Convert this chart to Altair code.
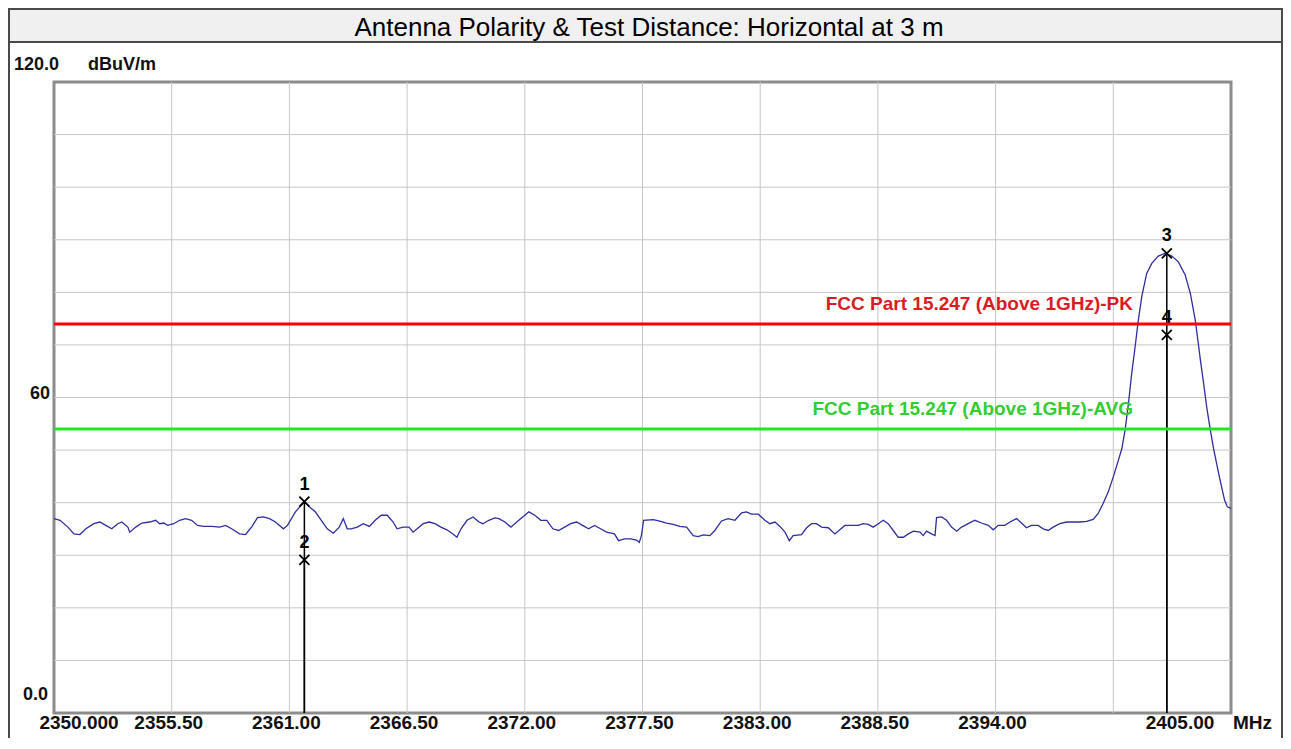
import altair as alt
import pandas as pd

# ---------------- data ----------------
freq = [
    2350.00, 2350.28, 2350.65, 2350.93, 2351.21, 2351.49, 2351.86, 2352.14, 2352.42, 2352.70,
    2352.98, 2353.17, 2353.45, 2353.54, 2353.82, 2354.10, 2354.47, 2354.75, 2354.94, 2355.13,
    2355.31, 2355.59, 2355.87, 2356.15, 2356.43, 2356.71, 2356.99, 2357.36, 2357.74, 2358.02,
    2358.30, 2358.67, 2358.95, 2359.23, 2359.51, 2359.79, 2360.07, 2360.35, 2360.72, 2360.91,
    2361.28, 2361.70, 2361.93, 2362.21, 2362.49, 2362.77, 2363.05, 2363.33, 2363.52, 2363.70,
    2363.89, 2364.17, 2364.45, 2364.74, 2365.01, 2365.29, 2365.57, 2365.85, 2366.03, 2366.31,
    2366.59, 2366.78, 2366.97, 2367.25, 2367.53, 2367.80, 2368.08, 2368.36, 2368.64, 2368.83,
    2369.02, 2369.30, 2369.58, 2369.86, 2370.04, 2370.32, 2370.60, 2370.79, 2371.07, 2371.35,
    2371.72, 2372.00, 2372.19, 2372.47, 2372.75, 2373.03, 2373.31, 2373.58, 2373.86, 2374.14,
    2374.42, 2374.70, 2374.98, 2375.26, 2375.54, 2375.82, 2376.19, 2376.38, 2376.66, 2376.94,
    2377.22, 2377.35, 2377.45, 2377.55, 2378.00, 2378.31, 2378.62, 2378.93, 2379.24, 2379.56,
    2379.87, 2380.10, 2380.34, 2380.65, 2380.88, 2381.19, 2381.50, 2381.82, 2382.13, 2382.36,
    2382.59, 2382.91, 2383.22, 2383.45, 2383.69, 2383.92, 2384.16, 2384.36, 2384.54, 2384.93,
    2385.17, 2385.40, 2385.63, 2385.87, 2386.18, 2386.49, 2386.72, 2386.96, 2387.35, 2387.58,
    2387.81, 2388.05, 2388.28, 2388.52, 2388.75, 2388.98, 2389.22, 2389.45, 2389.69, 2389.92,
    2390.16, 2390.47, 2390.62, 2390.77, 2391.01, 2391.17, 2391.24, 2391.48, 2391.71, 2391.94,
    2392.18, 2392.41, 2392.72, 2393.03, 2393.34, 2393.66, 2393.89, 2394.12, 2394.43, 2394.67,
    2394.98, 2395.21, 2395.44, 2395.68, 2395.99, 2396.22, 2396.46, 2396.69, 2397.00, 2397.32,
    2397.63, 2397.94, 2398.25, 2398.56, 2398.80, 2399.03, 2399.27, 2399.50, 2399.74, 2399.90,
    2400.05, 2400.21, 2400.36, 2400.50, 2400.67, 2400.83, 2401.06, 2401.30, 2401.60, 2401.92,
    2402.23, 2402.54, 2402.86, 2403.10, 2403.33, 2403.49, 2403.57, 2403.70, 2403.86, 2404.01,
    2404.17, 2404.36, 2404.52, 2404.70, 2404.83, 2405.00,
]
level = [
    36.97, 36.65, 35.35, 34.06, 33.94, 35.03, 36.00, 36.32, 35.68, 35.03,
    36.00, 36.32, 35.35, 34.39, 35.35, 36.13, 36.32, 36.65, 36.00, 36.13,
    35.68, 36.00, 36.65, 36.97, 36.65, 35.68, 35.48, 35.48, 35.35, 35.68,
    35.03, 34.06, 33.94, 35.35, 37.16, 37.29, 36.97, 36.32, 35.03, 35.68,
    38.26, 40.20, 39.23, 38.26, 36.65, 35.03, 34.19, 35.35, 36.97, 35.03,
    35.03, 35.35, 36.00, 35.48, 36.65, 37.61, 37.61, 36.32, 35.03, 35.35,
    35.35, 34.39, 35.03, 36.00, 36.32, 36.00, 35.35, 34.84, 34.06, 33.42,
    35.03, 36.65, 37.29, 36.32, 36.00, 36.65, 37.10, 36.97, 36.32, 35.35,
    36.65, 37.61, 38.26, 37.61, 36.65, 36.65, 35.03, 34.71, 35.35, 36.00,
    36.32, 35.68, 35.03, 35.68, 35.03, 34.39, 34.06, 32.77, 33.10, 33.10,
    32.90, 32.45, 33.74, 36.65, 36.77, 36.50, 36.13, 35.87, 35.48, 35.35,
    33.74, 33.55, 33.87, 33.74, 34.71, 36.52, 36.97, 36.65, 38.06, 38.26,
    37.81, 37.81, 36.65, 36.00, 36.32, 35.48, 34.39, 32.77, 33.74, 33.94,
    35.23, 36.00, 36.00, 35.35, 35.23, 34.06, 34.84, 35.68, 35.68, 35.68,
    36.00, 35.87, 35.35, 36.00, 36.65, 36.00, 34.71, 33.42, 33.42, 34.06,
    34.58, 34.39, 33.74, 34.58, 34.06, 33.74, 37.16, 37.29, 36.65, 35.35,
    34.58, 35.35, 36.00, 36.65, 36.13, 35.68, 34.84, 35.68, 35.68, 36.32,
    36.97, 36.13, 35.23, 35.68, 35.68, 35.03, 34.71, 35.35, 36.00, 36.32,
    36.32, 36.32, 36.45, 36.80, 38.00, 39.90, 42.10, 44.90, 48.10, 50.30,
    53.80, 58.90, 64.60, 69.00, 74.70, 79.20, 83.60, 85.50, 86.90, 87.40,
    86.90, 85.80, 83.30, 79.80, 74.70, 69.70, 67.10, 63.30, 58.30, 54.40,
    50.60, 46.80, 43.70, 40.50, 39.20, 38.90,
]

limit_vals = [74.0, 54.0]
limit_names = ["FCC Part 15.247 (Above 1GHz)-PK", "FCC Part 15.247 (Above 1GHz)-AVG"]
limit_colors = ["#ff0000", "#22e622"]
limit_text_colors = ["#d81c24", "#33cc33"]

marker_ids = ["1", "2", "3", "4"]
marker_freq = [2361.70, 2361.70, 2402.00, 2402.00]
marker_val = [40.2, 29.1, 87.4, 71.9]

xgrid_vals = [2355.5, 2361.0, 2366.5, 2372.0, 2377.5, 2383.0, 2388.5, 2394.0, 2399.5]
ygrid_vals = [10, 20, 30, 40, 50, 60, 70, 80, 90, 100, 110]

xlab_vals = [2355.5, 2361.0, 2366.5, 2372.0, 2377.5, 2383.0, 2388.5, 2394.0]
xlab_text = ["2355.50", "2361.00", "2366.50", "2372.00", "2377.50", "2383.00", "2388.50", "2394.00"]
x_start, x_start_text = 2350.0, "2350.000"
x_stop, x_stop_text = 2405.0, "2405.00"
x_unit = "MHz"

ylab_vals = [120, 60, 0]
ylab_text = ["120.0", "60", "0.0"]
y_unit = "dBuV/m"

title_text = "Antenna Polarity & Test Distance: Horizontal at 3 m"

# ---------------- chart ----------------
FONT = "Liberation Sans"
W, H = 1177, 631
LAB_Y = 647

xs = alt.Scale(domain=[2350, 2405], nice=False, zero=False, padding=0)
ys = alt.Scale(domain=[0, 120], nice=False, zero=False, padding=0)

trace_df = pd.DataFrame({"f": freq, "v": level})
lim_df = pd.DataFrame({"v": limit_vals, "name": limit_names,
                       "c": limit_colors, "tc": limit_text_colors})
mk_df = pd.DataFrame({"id": marker_ids, "f": marker_freq, "v": marker_val})
xg_df = pd.DataFrame({"f": xgrid_vals})
yg_df = pd.DataFrame({"v": ygrid_vals})
xl_df = pd.DataFrame({"f": xlab_vals, "t": xlab_text})
one = alt.Data(values=[{}])

X = lambda: alt.X("f:Q", scale=xs, axis=None)
Y = lambda: alt.Y("v:Q", scale=ys, axis=None)

grid_x = alt.Chart(xg_df).mark_rule(color="#c6c6c6", strokeWidth=1).encode(
    x=X(), y=alt.value(0), y2=alt.value(H))
grid_y = alt.Chart(yg_df).mark_rule(color="#c6c6c6", strokeWidth=1).encode(
    y=Y(), x=alt.value(0), x2=alt.value(W))

trace = alt.Chart(trace_df).mark_line(color="#2e2e9e", strokeWidth=1.3).encode(
    x=X(), y=Y(), order="f:Q")

mk_rule = alt.Chart(mk_df).mark_rule(color="black", strokeWidth=1.5).encode(
    x=X(), y=Y(), y2=alt.datum(0))
mk_x = alt.Chart(mk_df).mark_point(
    shape="M-1,-1L1,1M1,-1L-1,1", size=100, filled=False, color="black", strokeWidth=1.8,
    opacity=1
).encode(x=X(), y=Y())
mk_lab = alt.Chart(mk_df).mark_text(
    font=FONT, fontSize=18, fontWeight="bold", color="black", dy=-17, baseline="middle"
).encode(x=X(), y=Y(), text="id:N")

lim_line = alt.Chart(lim_df).mark_rule(strokeWidth=3).encode(
    y=Y(), x=alt.value(0), x2=alt.value(W), color=alt.Color("c:N", scale=None))
lim_text = alt.Chart(lim_df).mark_text(
    font=FONT, fontSize=19, fontWeight="bold", align="right", baseline="middle", dy=-20
).encode(y=Y(), x=alt.value(1079), text="name:N", color=alt.Color("tc:N", scale=None))

# x labels
xl = alt.Chart(xl_df).mark_text(
    font=FONT, fontSize=19, fontWeight="bold", color="#111", baseline="alphabetic", dx=-3
).encode(x=X(), y=alt.value(LAB_Y), text="t:N")
xl_start = alt.Chart(pd.DataFrame({"f": [x_start], "t": [x_start_text]})).mark_text(
    font=FONT, fontSize=19, fontWeight="bold", color="#111", baseline="alphabetic", dx=25
).encode(x=X(), y=alt.value(LAB_Y), text="t:N")
xl_stop = alt.Chart(pd.DataFrame({"f": [x_stop], "t": [x_stop_text]})).mark_text(
    font=FONT, fontSize=19, fontWeight="bold", color="#111", baseline="alphabetic", dx=-51
).encode(x=X(), y=alt.value(LAB_Y), text="t:N")
xl_unit = alt.Chart(pd.DataFrame({"f": [x_stop], "t": [x_unit]})).mark_text(
    font=FONT, fontSize=19, fontWeight="bold", color="#111", baseline="alphabetic",
    align="left", dx=2
).encode(x=X(), y=alt.value(LAB_Y), text="t:N")

# y labels
ylab_layers = []
ylab_pos = [(5, -17), (-4, -4), (-6, -18)]
for val, txt, (xr, dyv) in zip(ylab_vals, ylab_text, ylab_pos):
    ylab_layers.append(
        alt.Chart(pd.DataFrame({"v": [val], "t": [txt]})).mark_text(
            font=FONT, fontSize=18, fontWeight="bold", color="#111",
            align="right", baseline="middle", dy=dyv
        ).encode(y=Y(), x=alt.value(xr), text="t:N")
    )
y_unit_lab = alt.Chart(one).mark_text(
    font=FONT, fontSize=18, fontWeight="bold", color="#111", align="left", baseline="middle"
).encode(x=alt.value(34), y=alt.value(-17), text=alt.value(y_unit))

# title band & outer frame
title_box = alt.Chart(one).mark_rect(fill="#f0f0f0", stroke="#4a4a4a", strokeWidth=2).encode(
    x=alt.value(-45), x2=alt.value(1228), y=alt.value(-73), y2=alt.value(-40))
left_border = alt.Chart(one).mark_rule(color="#4a4a4a", strokeWidth=2).encode(
    x=alt.value(-45), y=alt.value(-40), y2=alt.value(656))
right_border = alt.Chart(one).mark_rule(color="#4a4a4a", strokeWidth=2).encode(
    x=alt.value(1228), y=alt.value(-40), y2=alt.value(656))
title = alt.Chart(one).mark_text(
    font=FONT, fontSize=26, color="black", align="center", baseline="alphabetic"
).encode(x=alt.value(595), y=alt.value(-46), text=alt.value(title_text))

chart = alt.layer(
    title_box, left_border, right_border, title,
    grid_x, grid_y, trace,
    mk_rule, mk_x, mk_lab,
    lim_line, lim_text,
    xl, xl_start, xl_stop, xl_unit,
    *ylab_layers, y_unit_lab,
).properties(
    width=W, height=H,
    autosize=alt.AutoSizeParams(type="none"),
    padding={"left": 46, "top": 74, "right": 52, "bottom": 25},
    background="white",
).configure_view(stroke="#8c8c8c", strokeWidth=3)

chart.save("out.html", embed_options={"renderer": "svg", "actions": False})
